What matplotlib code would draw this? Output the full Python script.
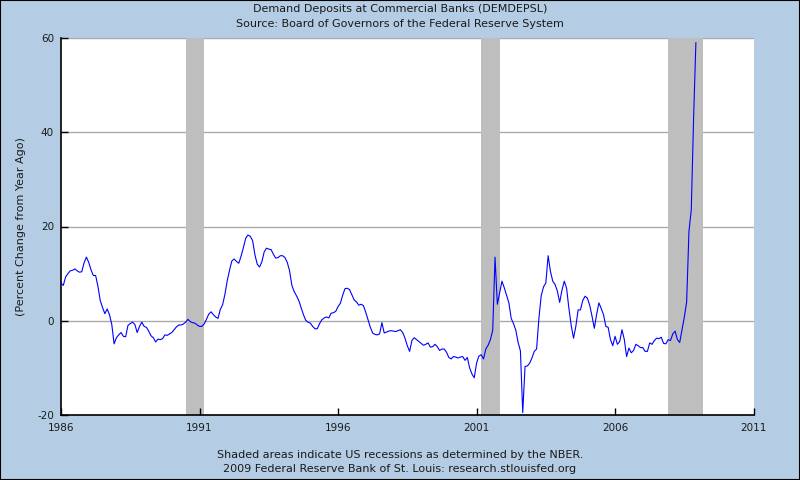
import matplotlib
matplotlib.use("Agg")
import matplotlib.pyplot as plt
from matplotlib.patches import Rectangle

# monthly percent change from year ago, Jan 1986 onward
pct_change = [
    8.0, 7.5, 9.3, 10.0, 10.6, 10.7, 11.0, 10.6, 10.3, 10.4,
    12.3, 13.5, 12.4, 10.8, 9.6, 9.6, 7.3, 4.3, 2.8, 1.5,
    2.5, 1.3, -0.8, -4.9, -3.6, -3.0, -2.5, -3.3, -3.4, -1.0,
    -0.6, -0.3, -0.8, -2.5, -1.2, -0.3, -1.2, -1.4, -2.2, -3.2,
    -3.6, -4.5, -3.9, -4.0, -3.8, -3.0, -3.1, -2.8, -2.5, -1.9,
    -1.3, -0.9, -0.9, -0.7, -0.3, 0.3, -0.2, -0.4, -0.5, -0.9,
    -1.2, -1.2, -0.7, 0.3, 1.4, 1.9, 1.3, 0.8, 0.5, 2.4,
    3.4, 5.6, 8.5, 10.7, 12.7, 13.1, 12.6, 12.2, 13.7, 15.5,
    17.5, 18.2, 17.9, 17.0, 14.0, 12.0, 11.4, 12.5, 14.6, 15.4,
    15.2, 15.1, 14.1, 13.3, 13.4, 13.8, 13.8, 13.4, 12.4, 10.6,
    7.5, 6.2, 5.3, 4.3, 2.8, 1.3, 0.1, -0.3, -0.5, -1.2,
    -1.7, -1.7, -0.6, 0.2, 0.6, 0.8, 0.6, 1.6, 1.7, 2.0,
    3.0, 3.7, 5.4, 6.8, 6.9, 6.6, 5.5, 4.4, 4.0, 3.3,
    3.5, 3.2, 1.8, 0.2, -1.4, -2.6, -2.9, -3.0, -2.8, -0.4,
    -2.6, -2.4, -2.2, -2.1, -2.2, -2.3, -2.1, -1.9, -2.5, -3.7,
    -5.3, -6.5, -4.2, -3.6, -4.0, -4.4, -4.8, -5.2, -5.0, -4.7,
    -5.6, -5.5, -5.0, -5.5, -6.3, -6.0, -6.0, -6.7, -7.8, -8.1,
    -7.6, -7.7, -7.9, -7.7, -7.6, -8.4, -7.8, -10.0, -11.3, -12.1,
    -9.0, -7.5, -7.2, -8.1, -6.0, -5.2, -4.0, -2.0, 13.5, 3.5,
    6.0, 8.4, 7.0, 5.4, 3.8, 0.5, -0.6, -2.0, -4.6, -6.4,
    -19.5, -9.7, -9.6, -9.0, -7.9, -6.5, -6.0, 0.5, 5.3, 7.2,
    8.0, 13.8, 10.5, 8.4, 7.7, 6.3, 3.9, 6.5, 8.4, 6.9,
    2.6, -1.0, -3.7, -1.2, 2.3, 2.3, 4.3, 5.2, 4.8, 3.3,
    1.0, -1.6, 1.3, 3.8, 2.6, 1.3, -1.2, -1.4, -4.0, -5.3,
    -3.3, -5.0, -4.4, -1.9, -4.0, -7.6, -5.8, -6.8, -6.3, -5.0,
    -5.3, -5.7, -5.7, -6.5, -6.5, -4.7, -5.0, -4.2, -3.7, -3.8,
    -3.5, -4.8, -4.9, -4.0, -4.2, -2.8, -2.2, -4.0, -4.6, -1.9,
    0.8, 4.0, 19.0, 23.5, 42.8, 59.0,
]
start_year = 1986

# NBER recessions (decimal years)
rec_start = [1990.5, 2001.1667, 2007.9167]
rec_end = [1991.1667, 2001.8333, 2009.1667]

x_ticks = [1986, 1991, 1996, 2001, 2006, 2011]
y_ticks = [-20, 0, 20, 40, 60]

years = [start_year + i / 12 for i in range(len(pct_change))]

bg = '#b4cde4'
txt = '#1a1a1a'
plt.rcParams['font.family'] = ['DejaVu Sans']

fig = plt.figure(figsize=(8, 4.8), dpi=100, facecolor=bg)
ax = fig.add_axes([61 / 800, 1 - 415 / 480, 692.6 / 800, 377 / 480])
ax.set_facecolor('white')

for s, e in zip(rec_start, rec_end):
    ax.axvspan(s, e, color='#bebebe', lw=0, zorder=1)

for y in y_ticks[1:]:
    ax.axhline(y, color='#aaaaaa', lw=1, zorder=0.5)

ax.plot(years, pct_change, color='#0000ff', lw=0.8, zorder=3)

ax.set_xlim(1986, 2011)
ax.set_ylim(-20, 60)
ax.set_xticks(x_ticks)
ax.set_yticks(y_ticks)
ax.set_xticklabels([str(t) for t in x_ticks], fontsize=7.5, color=txt)
ax.set_yticklabels([str(t) for t in y_ticks], fontsize=7.5, color=txt)
ax.tick_params(direction='in', length=5, width=1, color='black', pad=6)
ax.tick_params(axis='y', pad=5)

for side in ['top', 'right']:
    ax.spines[side].set_visible(False)
for side in ['left', 'bottom']:
    ax.spines[side].set_color('black')
    ax.spines[side].set_linewidth(1.2)

ax.set_ylabel('(Percent Change from Year Ago)', fontsize=8, color=txt, labelpad=8)

fig.text(0.5, 1 - 9 / 480, 'Demand Deposits at Commercial Banks (DEMDEPSL)',
         ha='center', va='center', fontsize=8, color=txt)
fig.text(0.5, 1 - 24 / 480, 'Source: Board of Governors of the Federal Reserve System',
         ha='center', va='center', fontsize=8, color=txt)
fig.text(0.5, 1 - 455 / 480, 'Shaded areas indicate US recessions as determined by the NBER.',
         ha='center', va='center', fontsize=8, color=txt)
fig.text(0.5, 1 - 469 / 480, '2009 Federal Reserve Bank of St. Louis: research.stlouisfed.org',
         ha='center', va='center', fontsize=8, color=txt)

fig.patches.append(Rectangle((0, 0), 1, 1, transform=fig.transFigure,
                             fill=False, edgecolor='black', lw=1.5))

fig.savefig('out.png', dpi=100, facecolor=bg)
